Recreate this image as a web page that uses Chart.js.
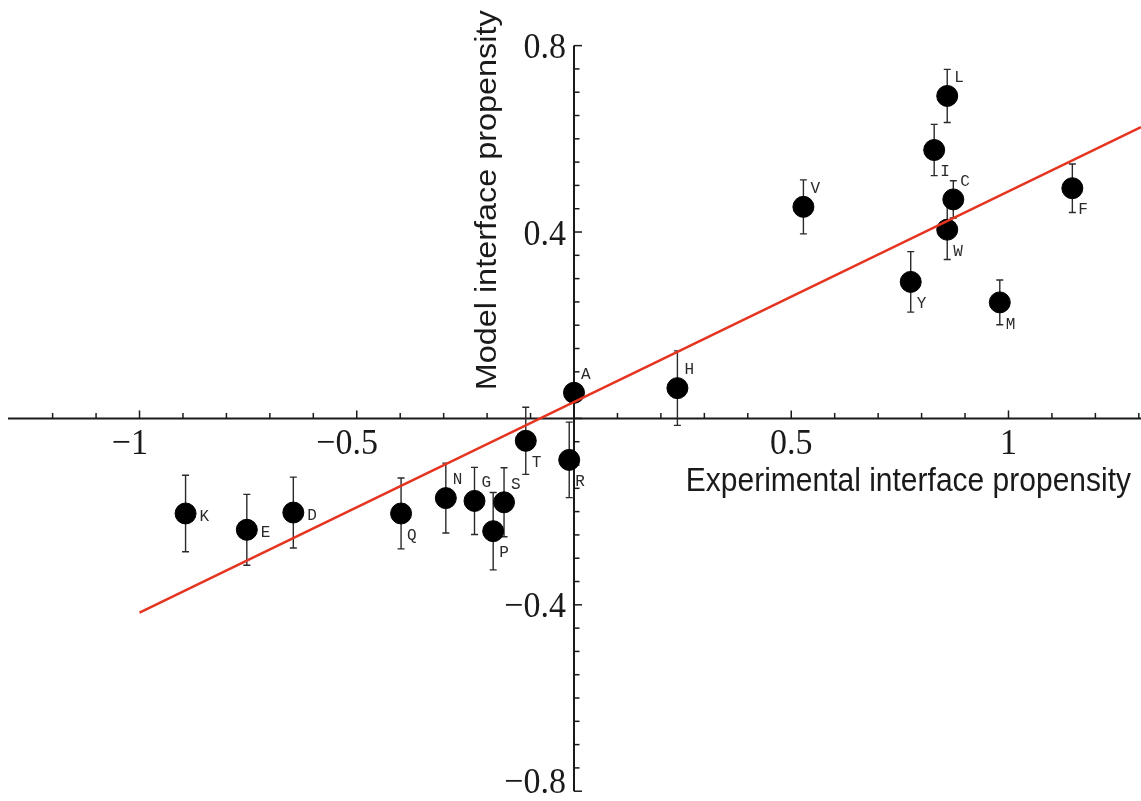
<!DOCTYPE html>
<html>
<head>
<meta charset="utf-8">
<script src="https://cdn.jsdelivr.net/npm/chart.js@4.4.1/dist/chart.umd.min.js"></script>
<style>
  html, body { margin: 0; padding: 0; background: #fff; }
  #wrap { width: 1141px; height: 801px; }
</style>
</head>
<body>
<div id="wrap"><canvas id="chart" width="1141" height="801"></canvas></div>
<script>
// residues, experimental vs model propensity
const residues = ["K", "E", "D", "Q", "N", "G", "S", "P", "T", "R", "A", "H", "L", "I", "V", "C", "W", "F", "Y", "M"];
const experimental = [-0.894, -0.753, -0.646, -0.398, -0.295, -0.229, -0.161, -0.186, -0.111, -0.011, 0.0, 0.238, 0.859, 0.829, 0.528, 0.873, 0.859, 1.147, 0.775, 0.980];
const model = [-0.204, -0.239, -0.202, -0.204, -0.171, -0.177, -0.180, -0.242, -0.048, -0.089, 0.055, 0.065, 0.692, 0.576, 0.454, 0.470, 0.405, 0.494, 0.293, 0.249];
const modelErr = [0.082, 0.076, 0.076, 0.076, 0.075, 0.072, 0.074, 0.083, 0.072, 0.081, 0.015, 0.080, 0.057, 0.055, 0.058, 0.040, 0.064, 0.052, 0.065, 0.048];
// where the letter sits relative to its point
const labelSide = ["E", "E", "E", "SE", "NE", "NE", "NE", "SE", "SE", "SE", "NE", "NE", "NE", "SE", "NE", "NE", "SE", "SE", "SE", "SE"];

// fitted line end points
const fitX = [-1.0, 1.305];
const fitY = [-0.417, 0.625];

const xTickLabels = [-1, -0.5, 0.5, 1];
const yTickLabels = [0.8, 0.4, -0.4, -0.8];
const xMinorStep = 0.1;
const yMinorStep = 0.05;
const yAxisRange = [-0.8, 0.8];

const xTitle = "Experimental interface propensity";
const yTitle = "Model interface propensity";

const AXIS_COLOR = "#1a1a1a";
const TICK_FONT = "34px 'Liberation Serif', 'Times New Roman', serif";
const TITLE_FONT = "30px 'Liberation Sans', Arial, sans-serif";
const LETTER_FONT = "16px 'Liberation Mono', 'Courier New', monospace";
const TEXT_STRETCH = 1.08; // the source figure is a bit taller than wide

const axesPlugin = {
    id: "crossAxes",
    beforeDatasetsDraw(chart) {
        const ctx = chart.ctx;
        const xs = chart.scales.x;
        const ys = chart.scales.y;
        const x0 = xs.getPixelForValue(0);
        const y0 = ys.getPixelForValue(0);
        const area = chart.chartArea;

        ctx.save();
        ctx.strokeStyle = AXIS_COLOR;
        ctx.lineWidth = 2;

        // x axis, full width
        ctx.beginPath();
        ctx.moveTo(area.left + 8, y0);
        ctx.lineTo(area.right, y0);
        ctx.stroke();

        // y axis between its end ticks
        const yTop = ys.getPixelForValue(yAxisRange[1]);
        const yBot = ys.getPixelForValue(yAxisRange[0]);
        ctx.beginPath();
        ctx.moveTo(x0, yTop);
        ctx.lineTo(x0, yBot);
        ctx.stroke();

        // x ticks point up
        ctx.lineWidth = 1.5;
        for (let i = -13; i <= 13; i++) {
            const px = xs.getPixelForValue(i * xMinorStep);
            if (px < area.left + 10 || px > area.right) continue;
            const major = i % 5 === 0;
            ctx.beginPath();
            ctx.moveTo(px, y0);
            ctx.lineTo(px, y0 - (major ? 8 : 5.5));
            ctx.stroke();
        }

        // y ticks point right
        for (let i = -16; i <= 16; i++) {
            const py = ys.getPixelForValue(i * yMinorStep);
            const major = i % 8 === 0;
            ctx.beginPath();
            ctx.moveTo(x0, py);
            ctx.lineTo(x0 + (major ? 8 : 5.5), py);
            ctx.stroke();
        }

        // tick labels
        ctx.fillStyle = AXIS_COLOR;
        ctx.font = TICK_FONT;
        ctx.textAlign = "left";
        ctx.textBaseline = "alphabetic";
        xTickLabels.forEach(v => {
            const px = xs.getPixelForValue(v);
            const num = String(Math.abs(v));
            const minus = v < 0 ? "\u2212" : "";
            const w = ctx.measureText(num).width;
            const mw = ctx.measureText(minus).width;
            ctx.save();
            ctx.translate(px - w / 2 - mw, y0 + 36);
            ctx.scale(1, TEXT_STRETCH);
            ctx.fillText(minus + num, 0, 0);
            ctx.restore();
        });
        ctx.textAlign = "right";
        ctx.textBaseline = "middle";
        yTickLabels.forEach(v => {
            const py = ys.getPixelForValue(v);
            const txt = (v < 0 ? "\u2212" : "") + String(Math.abs(v));
            // keep the bottom label inside the picture
            const cy = Math.min(py + 3, area.bottom - 18);
            ctx.save();
            ctx.translate(x0 - 8, cy);
            ctx.scale(1, TEXT_STRETCH);
            ctx.fillText(txt, 0, 0);
            ctx.restore();
        });

        // axis titles
        ctx.font = TITLE_FONT;
        ctx.textBaseline = "alphabetic";
        ctx.save();
        ctx.translate(area.right - 10, y0 + 73);
        ctx.scale(1, TEXT_STRETCH);
        ctx.textAlign = "right";
        ctx.fillText(xTitle, 0, 0);
        ctx.restore();

        ctx.save();
        ctx.translate(x0 - 78, ys.getPixelForValue(0.468));
        ctx.rotate(-Math.PI / 2);
        ctx.scale(TEXT_STRETCH, 1);
        ctx.textAlign = "center";
        ctx.fillText(yTitle, 0, 0);
        ctx.restore();

        // error bars
        ctx.strokeStyle = "#2a2a2a";
        ctx.lineWidth = 1.4;
        experimental.forEach((xv, i) => {
            const px = xs.getPixelForValue(xv);
            const top = ys.getPixelForValue(model[i] + modelErr[i]);
            const bot = ys.getPixelForValue(model[i] - modelErr[i]);
            ctx.beginPath();
            ctx.moveTo(px, top);
            ctx.lineTo(px, bot);
            ctx.moveTo(px - 3.5, top);
            ctx.lineTo(px + 3.5, top);
            ctx.moveTo(px - 3.5, bot);
            ctx.lineTo(px + 3.5, bot);
            ctx.stroke();
        });
        ctx.restore();
    },
    afterDatasetsDraw(chart) {
        const ctx = chart.ctx;
        const xs = chart.scales.x;
        const ys = chart.scales.y;
        const offsets = { E: [14, 3], NE: [7, -18], SE: [6, 22] };
        ctx.save();
        ctx.fillStyle = "#2a2a2a";
        ctx.font = LETTER_FONT;
        ctx.textAlign = "left";
        ctx.textBaseline = "middle";
        residues.forEach((r, i) => {
            const px = xs.getPixelForValue(experimental[i]);
            const py = ys.getPixelForValue(model[i]);
            const off = offsets[labelSide[i]];
            ctx.fillText(r, px + off[0], py + off[1]);
        });
        ctx.restore();
    }
};

new Chart(document.getElementById("chart"), {
    type: "scatter",
    data: {
        datasets: [
            {
                label: "fit",
                data: fitX.map((x, i) => ({ x: x, y: fitY[i] })),
                showLine: true,
                borderColor: "#e5341f",
                borderWidth: 2.5,
                pointRadius: 0,
                order: 0,
            },
            {
                label: "residues",
                data: experimental.map((x, i) => ({ x: x, y: model[i] })),
                backgroundColor: "#000",
                borderColor: "#000",
                pointRadius: 10.5,
                pointHoverRadius: 10.5,
                order: 1,
            }
        ]
    },
    options: {
        responsive: false,
        animation: false,
        layout: { padding: 0, autoPadding: false },
        plugins: {
            legend: { display: false },
            tooltip: { enabled: false },
        },
        scales: {
            x: { type: "linear", display: false, min: -1.3211, max: 1.3050 },
            y: { type: "linear", display: false, min: -0.8210, max: 0.8979 },
        }
    },
    plugins: [axesPlugin]
});
</script>
</body>
</html>
